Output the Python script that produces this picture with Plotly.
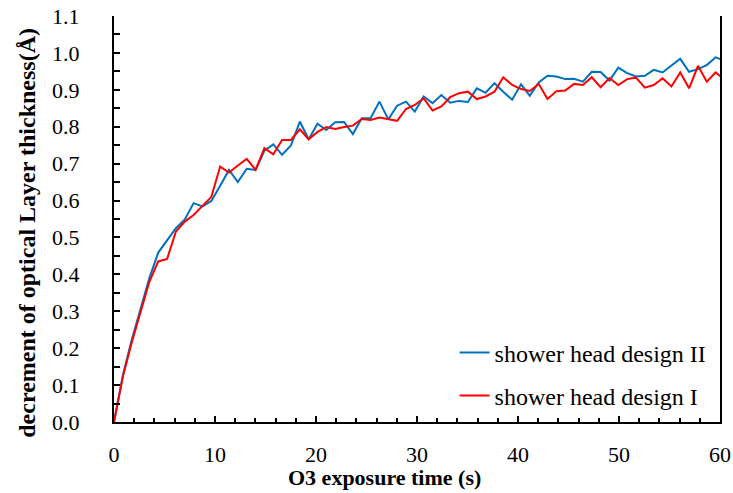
import plotly.graph_objects as go

# O3 exposure time (s) for each measurement
time_s = [
    0.00, 0.88, 1.75, 2.63, 3.50, 4.38, 5.26, 6.13, 7.01, 7.88,
    8.76, 9.64, 10.51, 11.39, 12.26, 13.14, 14.02, 14.89, 15.77, 16.64,
    17.52, 18.40, 19.27, 20.15, 21.02, 21.90, 22.78, 23.65, 24.53, 25.40,
    26.28, 27.16, 28.03, 28.91, 29.78, 30.66, 31.54, 32.41, 33.29, 34.16,
    35.04, 35.92, 36.79, 37.67, 38.54, 39.42, 40.30, 41.17, 42.05, 42.92,
    43.80, 44.68, 45.55, 46.43, 47.30, 48.18, 49.06, 49.93, 50.81, 51.68,
    52.56, 53.44, 54.31, 55.19, 56.06, 56.94, 57.82, 58.69, 59.57, 60.44,
]

# decrement of optical layer thickness (Å), shower head design II
design_ii = [
    0.000, 0.127, 0.222, 0.310, 0.390, 0.459, 0.493, 0.525, 0.549, 0.593,
    0.584, 0.599, 0.640, 0.683, 0.650, 0.686, 0.683, 0.735, 0.752, 0.724,
    0.749, 0.814, 0.766, 0.808, 0.791, 0.812, 0.813, 0.780, 0.823, 0.823,
    0.868, 0.820, 0.857, 0.868, 0.841, 0.882, 0.864, 0.886, 0.865, 0.870,
    0.867, 0.904, 0.892, 0.918, 0.895, 0.873, 0.915, 0.884, 0.920, 0.938,
    0.936, 0.929, 0.930, 0.922, 0.949, 0.948, 0.925, 0.960, 0.945, 0.936,
    0.938, 0.954, 0.947, 0.965, 0.984, 0.949, 0.956, 0.967, 0.988, 0.979,
]

# decrement of optical layer thickness (Å), shower head design I
design_i = [
    0.000, 0.123, 0.215, 0.299, 0.380, 0.435, 0.442, 0.516, 0.543, 0.561,
    0.586, 0.610, 0.692, 0.676, 0.695, 0.713, 0.683, 0.742, 0.725, 0.764,
    0.764, 0.793, 0.766, 0.786, 0.799, 0.794, 0.799, 0.803, 0.821, 0.818,
    0.825, 0.821, 0.816, 0.848, 0.859, 0.877, 0.844, 0.855, 0.880, 0.891,
    0.895, 0.875, 0.882, 0.895, 0.934, 0.913, 0.902, 0.897, 0.916, 0.875,
    0.896, 0.898, 0.916, 0.913, 0.934, 0.907, 0.932, 0.913, 0.929, 0.933,
    0.906, 0.913, 0.931, 0.909, 0.947, 0.904, 0.965, 0.922, 0.947, 0.928,
]

X_TITLE = "O3 exposure time (s)"
Y_TITLE = "decrement of optical Layer thickness(Å)"

FONT = "Liberation Serif"

fig = go.Figure()
fig.add_trace(go.Scatter(
    x=time_s, y=design_ii, mode="lines", name="shower head design II",
    line=dict(color="#0070C0", width=2), legend="legend", showlegend=True,
))
fig.add_trace(go.Scatter(
    x=time_s, y=design_i, mode="lines", name="shower head design I",
    line=dict(color="#FF0000", width=2), legend="legend2", showlegend=True,
))

legend_style = dict(
    xanchor="left", yanchor="middle", bgcolor="rgba(0,0,0,0)",
    font=dict(family=FONT, size=24, color="black"),
    itemwidth=30, borderwidth=0, visible=True,
)

# axis titles placed as free text so they can sit off-centre like the original
fig.add_annotation(
    text=f"<b>{X_TITLE}</b>", xref="paper", yref="paper",
    x=0.447, y=-0.136, xanchor="center", yanchor="middle",
    showarrow=False, font=dict(family=FONT, size=22, color="black"),
)
fig.add_annotation(
    text=f"<b>{Y_TITLE}</b>", xref="paper", yref="paper",
    x=-0.143, y=0.467, xanchor="center", yanchor="middle", textangle=-90,
    showarrow=False, font=dict(family=FONT, size=24, color="black"),
)

fig.update_layout(
    width=733, height=493,
    margin=dict(l=114, r=13, t=16, b=71, autoexpand=False),
    paper_bgcolor="white", plot_bgcolor="white",
    font=dict(family=FONT, size=22, color="black"),
    showlegend=True,
    legend=dict(x=0.562, y=0.170, **legend_style),
    legend2=dict(x=0.562, y=0.064, **legend_style),
    xaxis=dict(
        range=[0, 60], dtick=10, tick0=0, automargin=False,
        showgrid=False, zeroline=False,
        showline=True, linecolor="black", linewidth=2,
        ticks="inside", ticklen=6, tickwidth=1.5, tickcolor="black",
        minor=dict(dtick=2, ticks="inside", ticklen=4, tickwidth=1.5,
                   tickcolor="black", showgrid=False),
        ticklabelstandoff=12,
        tickfont=dict(family=FONT, size=22),
    ),
    yaxis=dict(
        range=[0, 1.1], dtick=0.1, tick0=0, tickformat=".1f", automargin=False,
        showgrid=False, zeroline=False,
        showline=True, linecolor="black", linewidth=2, mirror=True,
        ticks="inside", ticklen=6, tickwidth=1.5, tickcolor="black",
        minor=dict(dtick=0.05, ticks="inside", ticklen=6, tickwidth=1.5,
                   tickcolor="black", showgrid=False),
        ticklabelstandoff=28,
        tickfont=dict(family=FONT, size=22),
    ),
)

fig.write_html("out.html")
